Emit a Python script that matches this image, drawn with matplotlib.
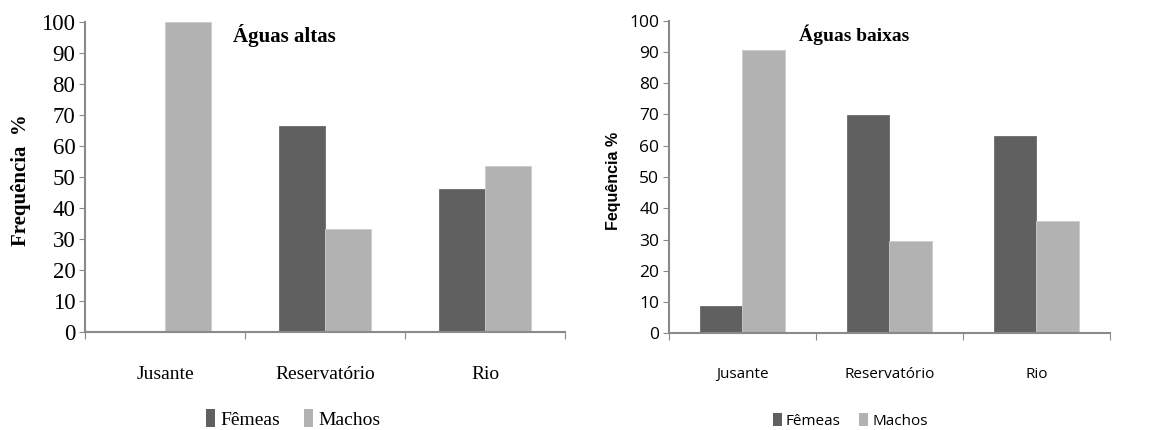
import numpy as np
from matplotlib import pyplot as plt
from matplotlib.patches import Patch

categories = ['Jusante', 'Reservatório', 'Rio']
series = ['Fêmeas', 'Machos']
altas_femeas = [0, 66.4, 46.1]
altas_machos = [100, 33.3, 53.6]
baixas_femeas = [8.7, 69.9, 63.2]
baixas_machos = [90.6, 29.4, 35.9]

dark = '#606060'
light = '#b2b2b2'
spine_c = '#8a8a8a'
serif = ['Liberation Serif', 'DejaVu Serif']
sans = ['Liberation Sans Narrow', 'Open Sans', 'DejaVu Sans']

fig = plt.figure(figsize=(11.6, 4.3), dpi=100)
ax1 = fig.add_axes([0.0733, 0.2272, 0.4138, 0.7223])
ax2 = fig.add_axes([0.5767, 0.2249, 0.3802, 0.7270])


def draw(ax, fem, mac, font, xsize, ysize_t, title, tsize, ylabel, yfont, ysize, ylx, title_x):
    x = np.arange(len(categories))
    w = 0.2875
    ax.bar(x - w / 2, fem, w, color=dark, edgecolor='#6a6a6a', linewidth=0.6)
    ax.bar(x + w / 2, mac, w, color=light, edgecolor='#cccccc', linewidth=0.6)
    ax.set_xlim(-0.5, len(categories) - 0.5)
    ax.set_ylim(0, 100)
    ax.set_yticks(range(0, 101, 10))
    ax.set_xticks(np.arange(-0.5, len(categories), 1.0))
    ax.set_xticklabels([])
    ax.set_xticks(x, minor=True)
    ax.set_xticklabels(categories, minor=True, family=font, fontsize=xsize)
    ax.tick_params(axis='x', which='minor', length=0, pad=24)
    ax.tick_params(axis='x', which='major', length=5, direction='out', color=spine_c)
    ax.tick_params(axis='y', length=4, direction='out', color=spine_c, pad=3)
    for lab in ax.get_yticklabels():
        lab.set_family(font)
        lab.set_fontsize(ysize_t)
    for s in ['top', 'right']:
        ax.spines[s].set_visible(False)
    for s in ['left', 'bottom']:
        ax.spines[s].set_color(spine_c)
        ax.spines[s].set_linewidth(1.5)
    ax.text(title_x, 0.955, title, transform=ax.transAxes, ha='center', va='center',
            family=serif, fontweight='bold', fontsize=tsize)
    fig.text(ylx, 0.58, ylabel, rotation=90, ha='center', va='center',
             family=yfont, fontweight='bold', fontsize=ysize)


draw(ax1, altas_femeas, altas_machos, serif, 14, 16.5, 'Águas altas', 15,
     'Frequência  %', serif, 15, 0.018, 0.415)
draw(ax2, baixas_femeas, baixas_machos, sans, 11, 12.5, 'Águas baixas', 14,
     'Fequência %', ['Liberation Sans', 'DejaVu Sans'], 11.5, 0.529, 0.42)

handles = [Patch(facecolor=dark), Patch(facecolor=light)]
fig.legend(handles, series, loc='center', bbox_to_anchor=(0.253, 0.026), ncol=2,
           frameon=False, handlelength=0.45, handleheight=1.0, handletextpad=0.3,
           columnspacing=1.2, borderpad=0.1, prop={'family': serif, 'size': 14})
fig.legend(handles, series, loc='center', bbox_to_anchor=(0.733, 0.022), ncol=2,
           frameon=False, handlelength=0.6, handleheight=1.0, handletextpad=0.25,
           columnspacing=1.2, borderpad=0.1, prop={'family': sans, 'size': 11})

fig.savefig('out.png', dpi=100)
